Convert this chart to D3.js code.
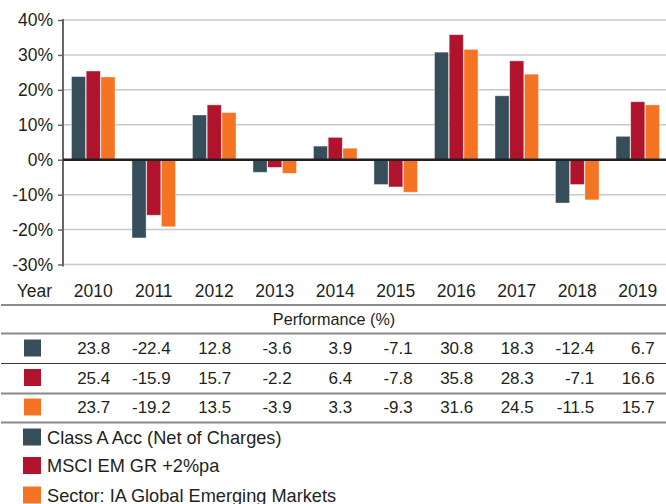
<!DOCTYPE html>
<html>
<head>
<meta charset="utf-8">
<script src="https://cdn.jsdelivr.net/npm/d3@7"></script>
<style>
  body { margin: 0; background: #fff; }
  text { font-family: "Liberation Sans", Arial, sans-serif; fill: #231f20; }
</style>
</head>
<body>
<script>
// chart data
const years = ["2010", "2011", "2012", "2013", "2014", "2015", "2016", "2017", "2018", "2019"];
const seriesNames = ["Class A Acc (Net of Charges)", "MSCI EM GR +2%pa", "Sector: IA Global Emerging Markets"];
const classA = [23.8, -22.4, 12.8, -3.6, 3.9, -7.1, 30.8, 18.3, -12.4, 6.7];
const msci = [25.4, -15.9, 15.7, -2.2, 6.4, -7.8, 35.8, 28.3, -7.1, 16.6];
const sector = [23.7, -19.2, 13.5, -3.9, 3.3, -9.3, 31.6, 24.5, -11.5, 15.7];
const colors = ["#364d5a", "#b0132b", "#f47424"];
const yTicks = [-30, -20, -10, 0, 10, 20, 30, 40];

const allSeries = [classA, msci, sector];

const W = 666, H = 504;
const svg = d3.select("body").append("svg")
    .attr("width", W)
    .attr("height", H);

const x0 = d3.scaleBand()
    .domain(years)
    .range([63, 668])
    .paddingInner(0.28)
    .paddingOuter(0.14);

const x1 = d3.scaleBand()
    .domain([0, 1, 2])
    .range([0, x0.bandwidth()])
    .paddingInner(0.04);

const y = d3.scaleLinear()
    .domain([-30, 40])
    .range([264.5, 20]);

// gridlines
svg.append("g")
    .selectAll("line")
    .data(yTicks.filter(d => d !== 0))
    .enter().append("line")
    .attr("x1", 63).attr("x2", W)
    .attr("y1", d => y(d)).attr("y2", d => y(d))
    .attr("stroke", "#c8c8c8")
    .attr("stroke-width", 1.5);

// y axis
const yAxis = d3.axisLeft(y)
    .tickValues(yTicks)
    .tickSize(5)
    .tickPadding(5)
    .tickFormat(d => d + "%");
const ya = svg.append("g")
    .attr("transform", "translate(63,0)")
    .call(yAxis);
ya.select(".domain").remove();
ya.selectAll(".tick line").attr("stroke", "#666").attr("stroke-width", 1.5);
ya.selectAll(".tick text")
    .style("font-size", "17.5px")
    .style("font-family", "'Liberation Sans', Arial, sans-serif")
    .attr("fill", "#231f20");
svg.append("line")
    .attr("x1", 63).attr("x2", 63)
    .attr("y1", y(40) - 1).attr("y2", y(-30) + 2)
    .attr("stroke", "#666")
    .attr("stroke-width", 2);

// bars
const groups = svg.append("g")
    .selectAll("g")
    .data(years)
    .enter().append("g")
    .attr("transform", d => "translate(" + x0(d) + ",0)");

groups.selectAll("rect")
    .data((d, i) => allSeries.map((s, k) => ({k: k, v: s[i]})))
    .enter().append("rect")
    .attr("x", d => x1(d.k))
    .attr("width", x1.bandwidth())
    .attr("y", d => y(Math.max(0, d.v)))
    .attr("height", d => Math.abs(y(d.v) - y(0)))
    .attr("fill", d => colors[d.k])
    .attr("stroke", "#fff")
    .attr("stroke-opacity", 0.5)
    .attr("stroke-width", 0.8);

// zero line
svg.append("line")
    .attr("x1", 63).attr("x2", W)
    .attr("y1", y(0)).attr("y2", y(0))
    .attr("stroke", "#231f20")
    .attr("stroke-width", 2.5);

// table
const colX = d => x0(d) + x0.bandwidth() / 2;
const fs = "17px";

svg.append("text")
    .attr("x", 52).attr("y", 297)
    .attr("text-anchor", "end")
    .style("font-size", "17.5px")
    .text("Year");

svg.append("g").selectAll("text")
    .data(years)
    .enter().append("text")
    .attr("x", d => colX(d))
    .attr("y", 297)
    .attr("text-anchor", "middle")
    .style("font-size", "17.5px")
    .text(d => d);

svg.append("text")
    .attr("x", 334).attr("y", 325)
    .attr("text-anchor", "middle")
    .style("font-size", "16.2px")
    .text("Performance (%)");

const rules = [
    {y: 305, c: "#8a8a8a", w: 2},
    {y: 333.5, c: "#8a8a8a", w: 2},
    {y: 363.5, c: "#3a3a3a", w: 1.2},
    {y: 393.5, c: "#8a8a8a", w: 2},
    {y: 422.5, c: "#8a8a8a", w: 2}
];
svg.append("g").selectAll("line")
    .data(rules)
    .enter().append("line")
    .attr("x1", 1).attr("x2", W)
    .attr("y1", d => d.y).attr("y2", d => d.y)
    .attr("stroke", d => d.c)
    .attr("stroke-width", d => d.w);

const rowY = [348, 377.5, 407];
allSeries.forEach((s, k) => {
    svg.append("rect")
        .attr("x", 24).attr("y", rowY[k] - 8.5)
        .attr("width", 17).attr("height", 17)
        .attr("fill", colors[k]);
    svg.append("g").selectAll("text")
        .data(s)
        .enter().append("text")
        .attr("x", (d, i) => colX(years[i]) + 17)
        .attr("y", rowY[k] + 6)
        .attr("text-anchor", "end")
        .style("font-size", fs)
        .text(d => d.toFixed(1));
});

// legend
const legY = [437, 465.5, 495];
const leg = svg.append("g").selectAll("g")
    .data(seriesNames)
    .enter().append("g")
    .attr("transform", (d, i) => "translate(0," + legY[i] + ")");
leg.append("rect")
    .attr("x", 23).attr("y", -8.5)
    .attr("width", 18).attr("height", 17)
    .attr("fill", (d, i) => colors[i]);
leg.append("text")
    .attr("x", 47).attr("y", 6.5)
    .style("font-size", "18.2px")
    .text(d => d);
</script>
</body>
</html>
